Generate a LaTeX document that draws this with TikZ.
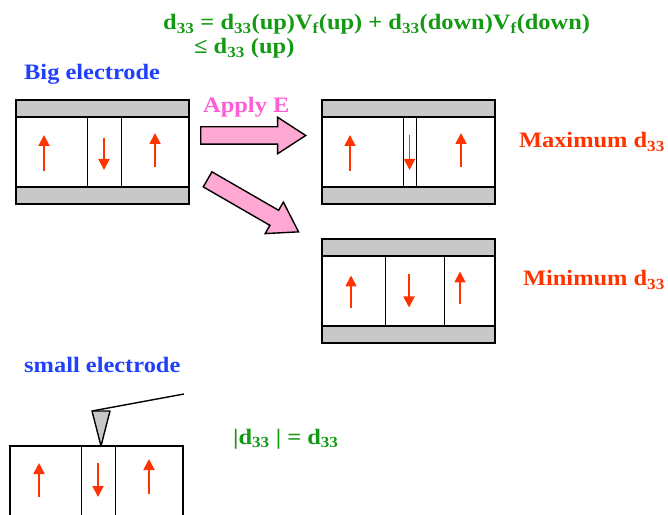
\documentclass[tikz,border=0pt]{standalone}
\usepackage{fontspec}
\setmainfont[FakeStretch=1.11]{Liberation Serif}
\usepackage{xcolor}
\usepackage{tikz}
\usetikzlibrary{
  shapes.arrows,
  arrows.meta,
  positioning
}
\definecolor{eqgreen}{HTML}{149914}
\definecolor{elblue}{HTML}{2040FF}
\definecolor{polred}{HTML}{FF3300}
\definecolor{applypink}{HTML}{FF5CD6}
\definecolor{arrowpink}{HTML}{FFA8D4}
\definecolor{elgray}{HTML}{C8C8C8}
\tikzstyle{electrode} = [
  rectangle, draw=black, line width=1.6pt, fill=elgray,
  minimum width=173pt, minimum height=17pt, inner sep=0pt, outer sep=0pt
]
\tikzstyle{domainbox} = [
  rectangle, draw=black, line width=1pt,
  minimum height=70pt, inner sep=0pt, outer sep=0pt
]
\tikzstyle{filmframe} = [draw=black, line width=1.6pt]
\tikzstyle{pol} = [-{Triangle[length=11pt, width=11pt]}, polred, line width=1.8pt]
\tikzstyle{bigarrow} = [
  single arrow, draw=black, line width=1.4pt, fill=arrowpink,
  minimum height=105pt, inner xsep=0pt, inner ysep=8pt,
  single arrow head extend=9.5pt, single arrow tip angle=66, anchor=tail
]
\tikzstyle{lbl} = [font=\bfseries\fontsize{22}{26}\selectfont, inner sep=0pt, anchor=base west]

\begin{document}
\begin{tikzpicture}[x=1pt, y=1pt]
\useasboundingbox (0,0) rectangle (668,514);
\clip (0,0) rectangle (668,514);

% --- Formula ---
\node[lbl, eqgreen] (eqtop) at (163,484) {d\textsubscript{33} = d\textsubscript{33}(up)V\textsubscript{f}(up) + d\textsubscript{33}(down)V\textsubscript{f}(down)};
\node[lbl, eqgreen] (eqbot) at (194,460) {≤ d\textsubscript{33} (up)};

% --- Big electrode, initial state ---
\node[lbl, elblue] (bigtxt) at (24,434) {Big electrode};
\node[domainbox, minimum width=71pt, anchor=north west] (a1) at (16,397) {};
\node[domainbox, minimum width=34pt, right=0pt of a1] (a2) {};
\node[domainbox, minimum width=68pt, right=0pt of a2] (a3) {};
\node[electrode, anchor=south west] (atop) at (a1.north west) {};
\node[electrode, anchor=north west] (abot) at (a1.south west) {};
\draw[filmframe] (a1.north west) rectangle (a3.south east);
\draw[pol] ([shift={(-7.5,-19)}]a1.center) -- ++(0,36);
\draw[pol] ([shift={(0,14)}]a2.center) -- ++(0,-32);
\draw[pol] ([shift={(0,-15)}]a3.center) -- ++(0,34);

% --- Apply E arrows ---
\node[bigarrow] (arrmax) at (200,378.5) {};
\node[bigarrow, rotate=-30] (arrmin) at (207,335) {};
\node[lbl, applypink] (applytxt) at (203,401) {Apply E};

% --- Maximum d33 state ---
\node[domainbox, minimum width=81pt, anchor=north west] (b1) at (322,397) {};
\node[domainbox, minimum width=13pt, right=0pt of b1] (b2) {};
\node[domainbox, minimum width=79pt, right=0pt of b2] (b3) {};
\node[electrode, anchor=south west] (btop) at (b1.north west) {};
\node[electrode, anchor=north west] (bbot) at (b1.south west) {};
\draw[filmframe] (b1.north west) rectangle (b3.south east);
\draw[pol] ([shift={(-12.5,-19)}]b1.center) -- ++(0,36);
\draw[pol] ([shift={(0,17)}]b2.center) -- ++(0,-35);
\draw[pol] ([shift={(5.5,-15)}]b3.center) -- ++(0,34);
\node[lbl, polred, anchor=base east] (maxtxt) at (665,366) {Maximum d\textsubscript{33}};

% --- Minimum d33 state ---
\node[domainbox, minimum width=63pt, anchor=north west] (c1) at (322,258) {};
\node[domainbox, minimum width=59pt, right=0pt of c1] (c2) {};
\node[domainbox, minimum width=51pt, right=0pt of c2] (c3) {};
\node[electrode, anchor=south west] (ctop) at (c1.north west) {};
\node[electrode, anchor=north west] (cbot) at (c1.south west) {};
\draw[filmframe] (c1.north west) rectangle (c3.south east);
\draw[pol] ([shift={(-2.5,-17.5)}]c1.center) -- ++(0,33);
\draw[pol] ([shift={(-5.5,16.5)}]c2.center) -- ++(0,-33);
\draw[pol] ([shift={(-9.5,-13.5)}]c3.center) -- ++(0,33);
\node[lbl, polred, anchor=base east] (mintxt) at (665,228) {Minimum d\textsubscript{33}};

% --- Small electrode (tip) ---
\node[lbl, elblue] (smalltxt) at (24,142) {small electrode};
\node[domainbox, minimum width=71pt, anchor=north west] (d1) at (10,68) {};
\node[domainbox, minimum width=34pt, right=0pt of d1] (d2) {};
\node[domainbox, minimum width=68pt, right=0pt of d2] (d3) {};
\draw[filmframe] (d1.north west) rectangle (d3.south east);
\draw[pol] ([shift={(-6.5,-16)}]d1.center) -- ++(0,34);
\draw[pol] ([shift={(0,18)}]d2.center) -- ++(0,-34);
\draw[pol] ([shift={(0,-13)}]d3.center) -- ++(0,35);
\coordinate (cantend) at (184,120);
\coordinate (tipapex) at ([xshift=3pt]d2.north);
\draw[black, line width=1.4pt, fill=elgray, line join=round]
  (92,103) -- (110,103) -- (tipapex) -- cycle;
\draw[black, line width=1.4pt] (cantend) -- (92,103);
\node[lbl, eqgreen] (abstxt) at (233,70) {|d\textsubscript{33} | = d\textsubscript{33}};

\end{tikzpicture}
\end{document}
